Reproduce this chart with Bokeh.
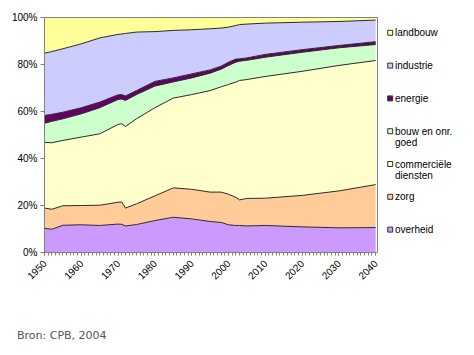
from bokeh.plotting import figure
from bokeh.models import ColumnDataSource, Range1d, FixedTicker, Div
from bokeh.core.properties import value
from bokeh.layouts import column
from bokeh.embed import file_html
from bokeh.resources import INLINE
from math import pi

years = [1950, 1952, 1955, 1960, 1965, 1970, 1971, 1972, 1975, 1980, 1985,
         1990, 1995, 1998, 2000, 2002, 2003, 2005, 2010, 2020, 2030, 2040]
overheid = [10.3, 9.9, 11.6, 11.8, 11.5, 12.1, 12.0, 11.3, 11.9, 13.6, 15.0,
            14.3, 13.2, 12.8, 11.8, 11.5, 11.5, 11.3, 11.5, 10.9, 10.5, 10.6]
zorg = [8.6, 8.5, 8.3, 8.2, 8.6, 9.3, 9.5, 7.6, 8.8, 10.5, 12.5,
        12.6, 12.5, 12.9, 13.0, 12.0, 10.9, 11.7, 11.6, 13.4, 15.7, 18.3]
commerciele = [28.0, 28.3, 27.8, 29.1, 30.4, 33.1, 33.3, 34.7, 36.2, 37.5, 38.2,
               40.3, 43.2, 44.8, 46.7, 49.0, 50.8, 50.6, 51.8, 52.8, 53.4, 52.8]
bouw = [8.1, 9.1, 9.2, 9.9, 11.1, 10.6, 10.5, 11.1, 10.3, 9.2, 6.9,
        7.1, 7.4, 7.5, 8.1, 8.5, 8.2, 8.2, 8.2, 8.1, 7.5, 6.8]
energie = [3.3, 3.0, 2.8, 2.6, 2.4, 2.0, 1.9, 1.9, 1.7, 2.0, 1.7,
           1.7, 1.4, 1.3, 1.4, 1.3, 1.0, 1.0, 1.2, 1.1, 1.0, 1.2]
industrie = [26.5, 26.7, 27.0, 27.2, 27.3, 25.7, 25.8, 26.6, 24.9, 21.2, 20.2,
             18.8, 17.5, 16.2, 14.9, 14.3, 14.6, 14.4, 13.3, 11.7, 10.2, 9.2]
landbouw = [15.2, 14.5, 13.3, 11.2, 8.7, 7.2, 7.0, 6.8, 6.2, 6.0, 5.5,
            5.2, 4.8, 4.5, 4.1, 3.4, 3.0, 2.8, 2.4, 2.0, 1.7, 1.1]

names = ["overheid", "zorg", "commerciele", "bouw", "energie", "industrie", "landbouw"]
labels = ["overheid", "zorg", "commerciële\ndiensten", "bouw en onr.\ngoed",
          "energie", "industrie", "landbouw"]
colors = ["#CC99FF", "#FFCC99", "#FFFFCC", "#CCFFCC", "#660066", "#CCCCFF", "#FFFF99"]
y_ticks = [0, 20, 40, 60, 80, 100]
x_ticks = list(range(1950, 2041, 10))
source_text = "Bron: CPB, 2004"

source = ColumnDataSource(dict(year=years, overheid=overheid, zorg=zorg,
                               commerciele=commerciele, bouw=bouw, energie=energie,
                               industrie=industrie, landbouw=landbouw))

# layout geometry (pixels)
W, H = 466, 320
LEFT, TOP, BOTTOM = 44, 16, 252
PLOT_RIGHT = 377                      # right edge of the plot area
X0, X1 = 1950, 2040.5                 # data extent of the plot area
XPX = (PLOT_RIGHT - LEFT) / (X1 - X0)  # px per year
Y_TOP = 100 + (17 - TOP) / 2.35
x_end = X0 + (W - LEFT) / XPX

def px_x(px):
    return X0 + (px - LEFT) / XPX

def px_y(py):
    return (BOTTOM - py) / ((BOTTOM - TOP) / Y_TOP)

p = figure(width=W, height=H, output_backend="svg", toolbar_location=None,
           x_range=Range1d(X0, x_end), y_range=Range1d(0, Y_TOP),
           min_border_left=LEFT, min_border_right=0, min_border_top=TOP,
           min_border_bottom=H - BOTTOM)
p.xgrid.visible = False
p.ygrid.visible = False
p.outline_line_color = None

p.varea_stack(stackers=names, x="year", color=colors, source=source)
p.vline_stack(stackers=names[:-1], x="year", color="#2a2a2a", line_width=1, source=source)

# plot-area border (top and right)
p.segment(x0=[X0, X1], y0=[100, 0], x1=[X1, X1], y1=[100, 100],
          line_color="#808080", line_width=1)

# axes
p.yaxis.ticker = FixedTicker(ticks=y_ticks)
p.yaxis.major_label_overrides = {t: f"{t}%" for t in y_ticks}
p.yaxis.bounds = (0, 100)
p.yaxis.minor_tick_line_color = None
p.yaxis.major_tick_in = 0
p.yaxis.major_tick_out = 4
p.yaxis.major_label_standoff = 3
p.xaxis.ticker = FixedTicker(ticks=x_ticks, minor_ticks=list(range(1950, 2041)))
p.xaxis.bounds = (X0, X1)
p.xaxis.major_label_orientation = pi / 4
p.xaxis.major_tick_in = 0
p.xaxis.major_tick_out = 3
p.xaxis.minor_tick_in = 0
p.xaxis.minor_tick_out = 3
p.xaxis.major_label_standoff = 6
for ax in (p.xaxis, p.yaxis):
    ax.axis_line_color = "#808080"
    ax.major_tick_line_color = "#808080"
    ax.minor_tick_line_color = "#808080"
    ax.major_label_text_font = "Liberation Sans"
    ax.major_label_text_font_size = "10px"
    ax.major_label_text_color = "#000000"

# legend (top to bottom), placed right of the plot area
order = [6, 5, 4, 3, 2, 1, 0]
first, pitch, line_gap = 32.3, 32.8, 11.3
box_py = [first + i * pitch for i in range(len(order))]
p.rect(x=[px_x(389.7)] * len(order), y=[px_y(v) for v in box_py],
       width=5, height=5, width_units="screen", height_units="screen",
       fill_color=[colors[i] for i in order], line_color="#333333", line_width=1)
tx, ty, tt = [], [], []
for yy, i in zip(box_py, order):
    for k, line in enumerate(labels[i].split("\n")):
        tx.append(px_x(394.5))
        ty.append(px_y(yy + k * line_gap))
        tt.append(line)
p.text(x=tx, y=ty, text=tt, text_font=value("Liberation Sans"), text_font_size="10px",
       text_baseline="middle", text_align="left", text_color="#000000")

note = Div(text=source_text, width=200, height=20, margin=(8, 0, 0, 17),
           styles={"font-family": "DejaVu Sans", "font-size": "11px", "color": "#555555"})

open("out.html", "w").write(file_html(column(p, note), INLINE))
